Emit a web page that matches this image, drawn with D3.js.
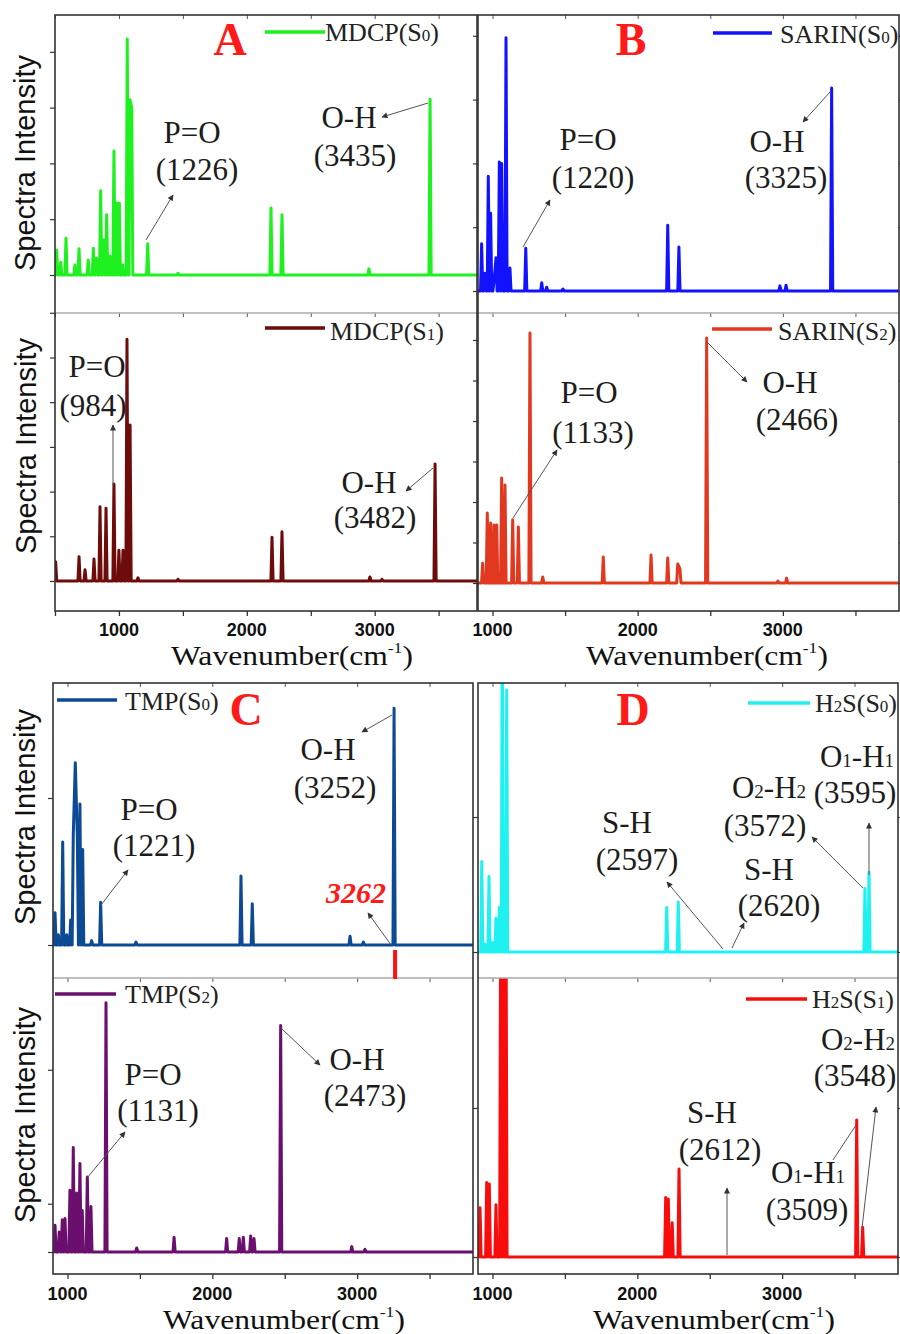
<!DOCTYPE html>
<html><head><meta charset="utf-8">
<script src="https://cdn.jsdelivr.net/npm/d3@7"></script>
<style>body{margin:0;background:#fff;} svg{display:block;}</style>
</head><body>
<svg id="chart" width="900" height="1334"></svg>
<script>
// ---------------- DATA (peak wavenumber cm-1, intensity in axis units) ----------------
const mdcpS0Pos = [513,545,586,656,688,760,800,826,857,883,904,930,961,982,1003,1029,1065,1087,1100,1225,1462,2189,2275,2955,3433];
const mdcpS0Int = [0.45,0.23,0.66,0.18,0.47,0.27,0.48,0.30,1.51,0.63,1.08,0.34,2.22,1.29,1.29,0.18,4.23,3.14,2.99,0.56,0.03,1.20,1.08,0.11,3.15];

const mdcpS1Pos = [505,688,735,805,852,899,961,1000,1032,1063,1087,1149,1462,2197,2275,2963,3057,3472];
const mdcpS1Int = [0.43,0.54,0.25,0.49,1.66,1.63,2.17,0.69,0.69,5.41,3.49,0.07,0.04,0.98,1.10,0.09,0.04,2.62];

const sarinS0Pos = [925,948,971,987,1010,1024,1047,1063,1093,1120,1229,1339,1373,1485,2207,2284,2980,3022,3336];
const sarinS0Int = [0.74,0.28,1.80,1.22,0.15,0.52,2.02,2.00,3.97,0.36,0.67,0.13,0.06,0.03,1.03,0.69,0.08,0.09,3.18];

const sarinS2Pos = [932,964,987,1010,1029,1063,1086,1139,1178,1258,1346,1763,2092,2207,2276,2291,2475,2966,3026];
const sarinS2Int = [0.49,1.73,1.48,1.43,1.43,2.59,2.42,1.56,1.38,6.17,0.15,0.64,0.69,0.62,0.47,0.35,6.05,0.05,0.12];

const tmpS0Pos = [914,937,967,995,1022,1040,1054,1068,1086,1105,1167,1229,1473,2198,2276,2951,3043,3255];
const tmpS0Int = [0.22,0.07,0.70,0.07,0.17,0.75,1.24,0.73,0.96,0.65,0.03,0.29,0.02,0.47,0.28,0.06,0.02,1.61];

const tmpS2Pos = [914,943,964,983,1017,1040,1064,1086,1102,1137,1162,1266,1478,1736,2099,2186,2214,2265,2288,2472,2963,3054];
const tmpS2Int = [0.20,0.15,0.24,0.25,0.46,0.78,0.44,0.66,0.31,0.56,0.34,1.86,0.03,0.11,0.10,0.10,0.11,0.12,0.10,1.69,0.04,0.02];

const h2sS0Pos = [926,948,976,1002,1024,1047,1068,1098,2203,2283,3572,3600];
const h2sS0Int = [0.67,0.06,0.56,0.07,0.25,0.33,2.6,1.94,0.33,0.37,0.47,0.59];

const h2sS1Pos = [914,960,978,1024,1057,1075,1093,2196,2214,2241,2288,3515,3556];
const h2sS1Int = [0.33,0.50,0.49,0.35,2.5,2.5,2.5,0.40,0.39,0.23,0.59,0.92,0.20];

const seriesNames = ["MDCP(S_0)","MDCP(S_1)","SARIN(S_0)","SARIN(S_2)","TMP(S_0)","TMP(S_2)","H_2S(S_0)","H_2S(S_1)"];
const panelLetters = ["A","B","C","D"];
const xTickValuesA = [500,1000,1500,2000,2500,3000,3500];
const xTickValues = [1000,1500,2000,2500,3000,3500];
const xTickLabels = [1000,2000,3000];
const markerWn = 3262;
const markerLabel = "3262";

// ---------------- LAYOUT / STYLE ----------------
const colors = ["#1ff01f","#6e0b0b","#1212ff","#e2381f","#0c4a94","#6b0f6f","#1ff0f0","#f80c0c"];
const spectra = [
  [mdcpS0Pos,mdcpS0Int],[mdcpS1Pos,mdcpS1Int],[sarinS0Pos,sarinS0Int],[sarinS2Pos,sarinS2Int],
  [tmpS0Pos,tmpS0Int],[tmpS2Pos,tmpS2Int],[h2sS0Pos,h2sS0Int],[h2sS1Pos,h2sS1Int]
];
const panels = [
  {x0:55,x1:477,xDomain:[500,3800],xTicks:xTickValuesA,axisY:611,labY:636,xlab:[292,665],letter:[230,55],
   subs:[{top:15,bottom:313,base:275,unit:55.8,yTicks:[0,1,2,3,4],s:0,leg:[265,325,32,325,41]},
         {top:313,bottom:611,base:581,unit:44.7,yTicks:[0,1,2,3,4,5,6],s:1,leg:[265,325,328,330,340]}]},
  {x0:478,x1:899,xDomain:[900,3800],xTicks:xTickValues,axisY:611,labY:636,xlab:[707,665],letter:[631,55],
   subs:[{top:15,bottom:313,base:291,unit:63.8,yTicks:[0,1,2,3,4],s:2,leg:[713,772,33,780,43]},
         {top:313,bottom:611,base:583,unit:40.5,yTicks:[0,1,2,3,4,5,6],s:3,leg:[712,772,329,778,340]}]},
  {x0:53,x1:473,xDomain:[900,3800],xTicks:xTickValues,axisY:1274,labY:1300,xlab:[284,1329],letter:[246,725],
   subs:[{top:683,bottom:978,base:945,unit:147,yTicks:[0,1],s:4,leg:[57,117,700,125,710]},
         {top:978,bottom:1274,base:1252,unit:134,yTicks:[0,0.36,1.36],s:5,leg:[55,116,994,125,1003]}]},
  {x0:478,x1:898,xDomain:[900,3800],xTicks:xTickValues,axisY:1274,labY:1300,xlab:[714,1329],letter:[633,725],
   subs:[{top:683,bottom:978,base:952,unit:135,yTicks:[0,1],s:6,leg:[748,810,703,815,712]},
         {top:978,bottom:1274,base:1257,unit:149,yTicks:[0,1],s:7,leg:[746,807,999,812,1008]}]}
];
const yLabels = [[35,163],[36,446],[35,817],[35,1115]];
const annTexts = [
  ["P=O",192,143],["(1226)",197,180],["O-H",349,128],["(3435)",355,166],
  ["P=O",588,150],["(1220)",593,188],["O-H",777,152],["(3325)",786,188],
  ["P=O",97,377],["(984)",93,416],["O-H",369,493],["(3482)",375,528],
  ["P=O",589,403],["(1133)",593,443],["O-H",790,393],["(2466)",797,430],
  ["P=O",149,820],["(1221)",154,856],["O-H",328,760],["(3252)",335,798],
  ["P=O",153,1085],["(1131)",158,1121],["O-H",357,1070],["(2473)",365,1106],
  ["S-H",627,833],["(2597)",637,870],["S-H",769,880],["(2620)",779,916],
  ["O_2-H_2",769,798],["(3572)",765,836],["O_1-H_1",857,767],["(3595)",855,803],
  ["S-H",712,1123],["(2612)",720,1160],["O_2-H_2",858,1050],["(3548)",855,1086],
  ["O_1-H_1",808,1183],["(3509)",807,1220]
];
const arrows = [
  [146,240,173,195,1],[428,103,382,117,1],[523,247,550,200,1],[830,92,803,122,1],
  [113,485,113,425,1],[433,468,406,491,1],[513,518,557,450,1],[707,342,747,382,1],
  [101,905,128,870,1],[392,715,362,732,1],[87,1178,125,1132,1],[281,1028,320,1065,1],
  [723,949,667,882,1],[732,948,744,923,1],[863,888,812,837,1],[869,875,869,823,1],
  [727,1255,727,1188,1],[862,1228,876,1107,1],[856,1125,833,1160,0]
];

const svg = d3.select("#chart");
svg.append("rect").attr("width",900).attr("height",1334).attr("fill","#fff");
const defs = svg.append("defs");
defs.append("marker").attr("id","arr").attr("viewBox","0 0 10 10").attr("refX",9).attr("refY",5)
  .attr("markerWidth",7).attr("markerHeight",6).attr("markerUnits","userSpaceOnUse").attr("orient","auto")
  .append("path").attr("d","M0,0L10,5L0,10z").attr("fill","#333");

function rich(sel, str, subSize){
  const parts = str.split(/_(\d)/);
  parts.forEach((p,i)=>{
    if(!p) return;
    const t = sel.append("tspan").text(p);
    if(i%2===1) t.attr("font-size",subSize);
  });
}

function peakPoints(pos, ints, hw, dom){
  const pts = [[dom[0],0]];
  for(let i=0;i<pos.length;i++){
    const p = pos[i];
    if(i===0 || p-pos[i-1] > 2*hw){
      if(i>0) pts.push([pos[i-1]+hw,0]);
      pts.push([p-hw,0]);
    }
    pts.push([p,ints[i]]);
  }
  pts.push([pos[pos.length-1]+hw,0]);
  pts.push([dom[1],0]);
  return pts;
}

const font = "'Liberation Serif','Times New Roman',serif";
const sans = "'Liberation Sans',Arial,sans-serif";

panels.forEach((P,pi)=>{
  const x = d3.scaleLinear().domain(P.xDomain).range([P.x0,P.x1]);
  const hw = 1.1*(P.xDomain[1]-P.xDomain[0])/(P.x1-P.x0);
  P.subs.forEach((S,si)=>{
    const y = d3.scaleLinear().domain([-(S.bottom-S.base)/S.unit,(S.base-S.top)/S.unit]).range([S.bottom,S.top]);
    const cid = "clip"+pi+"_"+si;
    defs.append("clipPath").attr("id",cid).append("rect")
      .attr("x",P.x0).attr("y",S.top).attr("width",P.x1-P.x0).attr("height",S.bottom-S.top);
    const [pos,ints] = spectra[S.s];
    const pts = peakPoints(pos,ints,hw,P.xDomain);
    svg.append("path").attr("clip-path",`url(#${cid})`)
      .attr("d",d3.line().x(d=>x(d[0])).y(d=>y(d[1]))(pts))
      .attr("fill","none").attr("stroke",colors[S.s]).attr("stroke-width",3)
      .attr("stroke-linejoin","round");
    const gl = svg.append("g").attr("transform",`translate(${P.x0},0)`)
      .call(d3.axisLeft(y).tickValues(S.yTicks).tickSize(5).tickFormat(""));
    gl.select(".domain").remove();
    gl.selectAll("line").attr("stroke","#333").attr("stroke-width",1.2);
    if(pi%2===1){
      const gr = svg.append("g").attr("transform",`translate(${P.x1},0)`)
        .call(d3.axisRight(y).tickValues(S.yTicks).tickSize(4).tickFormat(""));
      gr.select(".domain").remove();
      gr.selectAll("line").attr("stroke","#333").attr("stroke-width",1.2);
    }
    const gt = svg.append("g").attr("transform",`translate(0,${S.top})`)
      .call(d3.axisTop(x).tickValues(P.xTicks).tickSize(-4).tickFormat(""));
    gt.select(".domain").remove();
    gt.selectAll("line").attr("stroke","#555").attr("stroke-width",1);
    const L = S.leg;
    svg.append("line").attr("x1",L[0]).attr("x2",L[1]).attr("y1",L[2]).attr("y2",L[2])
      .attr("stroke",colors[S.s]).attr("stroke-width",3.5);
    const lt = svg.append("text").attr("x",L[3]).attr("y",L[4]).attr("font-family",font)
      .attr("font-size",26).attr("fill","#222");
    rich(lt, seriesNames[S.s], 17);
  });
  const top = P.subs[0].top, bot = P.subs[1].bottom, mid = P.subs[0].bottom;
  svg.append("line").attr("x1",P.x0).attr("x2",P.x1).attr("y1",mid).attr("y2",mid)
    .attr("stroke","#aaa").attr("stroke-width",1.3);
  svg.append("rect").attr("x",P.x0).attr("y",top).attr("width",P.x1-P.x0).attr("height",bot-top)
    .attr("fill","none").attr("stroke","#333").attr("stroke-width",1.6);
  const gb = svg.append("g").attr("transform",`translate(0,${P.axisY})`)
    .call(d3.axisBottom(x).tickValues(P.xTicks).tickSize(5).tickFormat(""));
  gb.select(".domain").remove();
  gb.selectAll("line").attr("stroke","#333").attr("stroke-width",1.3);
  xTickLabels.forEach(v=>{
    svg.append("text").attr("x",x(v)).attr("y",P.labY).attr("text-anchor","middle")
      .attr("font-family",sans).attr("font-weight","bold").attr("font-size",18).attr("fill","#111").text(v);
  });
  const xl = svg.append("text").attr("text-anchor","middle")
    .attr("transform",`translate(${P.xlab[0]},${P.xlab[1]}) scale(1.17,1)`)
    .attr("font-family",font).attr("font-size",27).attr("fill","#111");
  xl.append("tspan").text("Wavenumber(cm");
  xl.append("tspan").attr("font-size",15).attr("dy",-12).text("-1");
  xl.append("tspan").attr("dy",12).text(")");
  svg.append("text").attr("x",P.letter[0]).attr("y",P.letter[1]).attr("text-anchor","middle")
    .attr("font-family",font).attr("font-weight","bold").attr("font-size",46).attr("fill","#ff1a1a")
    .text(panelLetters[pi]);
  if(pi===2){
    const xm = x(markerWn);
    svg.append("line").attr("x1",xm).attr("x2",xm).attr("y1",950).attr("y2",979)
      .attr("stroke","#ff1010").attr("stroke-width",4);
    svg.append("line").attr("x1",xm-4).attr("y1",945).attr("x2",368).attr("y2",913)
      .attr("stroke","#555").attr("stroke-width",1).attr("marker-end","url(#arr)");
    svg.append("text").attr("x",356).attr("y",903).attr("text-anchor","middle")
      .attr("font-family",font).attr("font-weight","bold").attr("font-style","italic")
      .attr("font-size",30).attr("fill","#ff1a1a").text(markerLabel);
  }
});

yLabels.forEach(p=>{
  svg.append("text").attr("transform",`translate(${p[0]},${p[1]}) rotate(-90)`).attr("text-anchor","middle")
    .attr("font-family",sans).attr("font-size",29).attr("fill","#111").text("Spectra Intensity");
});

arrows.forEach(a=>{
  const l = svg.append("line").attr("x1",a[0]).attr("y1",a[1]).attr("x2",a[2]).attr("y2",a[3])
    .attr("stroke","#555").attr("stroke-width",1);
  if(a[4]) l.attr("marker-end","url(#arr)");
});
annTexts.forEach(t=>{
  const el = svg.append("text").attr("x",t[1]).attr("y",t[2]).attr("text-anchor","middle")
    .attr("font-family",font).attr("font-size",31).attr("fill","#1c1c1c");
  rich(el, t[0], 19);
});
</script>
</body></html>
